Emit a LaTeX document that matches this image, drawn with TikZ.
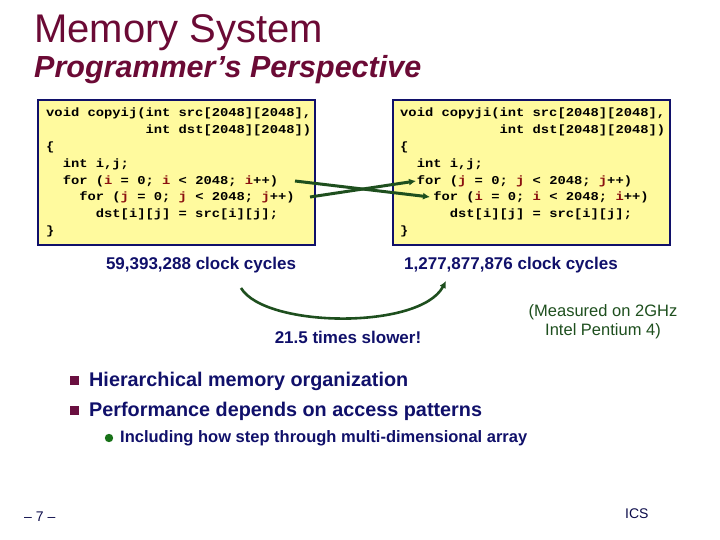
\documentclass[tikz,border=0pt]{standalone}
\usepackage{fontspec}
\setmainfont{Liberation Sans}
\newfontfamily\codefont[FakeStretch=1.15]{Liberation Mono}
\usetikzlibrary{arrows.meta}
\definecolor{ttl}{HTML}{6B0A35}
\definecolor{navy}{HTML}{10106A}
\definecolor{grn}{HTML}{1E4F1E}
\definecolor{ylw}{HTML}{FFFA9E}
\definecolor{vr}{HTML}{8A1010}
\definecolor{bul}{HTML}{6A1040}
\newcommand{\vv}[1]{\textcolor{vr}{#1}}
\begin{document}
\begin{tikzpicture}[x=1pt,y=-1pt,
  codebox/.style={draw=navy,line width=2pt,fill=ylw},
  code/.style={anchor=west,inner sep=0,font=\codefont\bfseries\fontsize{12}{12}\selectfont},
  txt/.style={font=\bfseries\fontsize{17}{17}\selectfont,text=navy,inner sep=0},
  arr/.style={draw=grn,line width=3pt,-{Latex[length=7pt,width=7pt]}}]
\useasboundingbox (0,0) rectangle (720,540);
\node[anchor=west,text=ttl,font=\fontsize{40}{40}\selectfont,inner sep=0] (t1) at (34,33) {Memory System};
\node[anchor=west,text=ttl,font=\bfseries\itshape\fontsize{30.5}{31}\selectfont,inner sep=0] (t2) at (34,70) {Programmer’s Perspective};
\draw[codebox] (38,100) rectangle (315,245);
\draw[codebox] (393,100) rectangle (670,245);
% left code
\node[code] (l1) at (46,113) {void copyij(int src[2048][2048],};
\node[code] (l2) at (46,130) {\phantom{void copyij(}int dst[2048][2048])};
\node[code] (l3) at (46,147) {\{};
\node[code] (l4) at (46,164) {\ \ int i,j;};
\node[code] (l5) at (46,181) {\ \ for (\vv{i} = 0; \vv{i} < 2048; \vv{i}++)};
\node[code] (l6) at (46,197) {\ \ \ \ for (\vv{j} = 0; \vv{j} < 2048; \vv{j}++)};
\node[code] (l7) at (46,214) {\ \ \ \ \ \ dst[i][j] = src[i][j];};
\node[code] (l8) at (46,231) {\}};
% right code
\node[code] (r1) at (400,113) {void copyji(int src[2048][2048],};
\node[code] (r2) at (400,130) {\phantom{void copyji(}int dst[2048][2048])};
\node[code] (r3) at (400,147) {\{};
\node[code] (r4) at (400,164) {\ \ int i,j;};
\node[code] (r5) at (400,181) {\ \ for (\vv{j} = 0; \vv{j} < 2048; \vv{j}++)};
\node[code] (r6) at (400,197) {\ \ \ \ for (\vv{i} = 0; \vv{i} < 2048; \vv{i}++)};
\node[code] (r7) at (400,214) {\ \ \ \ \ \ dst[i][j] = src[i][j];};
\node[code] (r8) at (400,231) {\}};
\coordinate (a1) at (295,181); \coordinate (b1) at (430,197);
\coordinate (a2) at (310,197); \coordinate (b2) at (416,181);
\draw[arr] (a1) -- (b1);
\draw[arr] (a2) -- (b2);
% cycles
\node[txt] (c1) at (201,265) {59,393,288 clock cycles};
\node[txt] (c2) at (511,265) {1,277,877,876 clock cycles};
\coordinate (s) at (241,288); \coordinate (e) at (446,281);
\draw[arr,line width=2.6pt] (s) .. controls (265,328) and (420,330) .. (e);
\node[txt,font=\bfseries\fontsize{17}{17}\selectfont] (slow) at (348,337) {21.5 times slower!};
\node[text=grn,font=\fontsize{16.5}{19}\selectfont,align=center,inner sep=0] (meas) at (603,322) {(Measured on 2GHz\\Intel Pentium 4)};
% bullets
\fill[bul] (70,376) rectangle (79,385); \node[txt,anchor=west,font=\bfseries\fontsize{19.8}{20}\selectfont] (b1t) at (89,381) {Hierarchical memory organization};
\fill[bul] (70,406) rectangle (79,415); \node[txt,anchor=west,font=\bfseries\fontsize{19.8}{20}\selectfont] (b2t) at (89,411) {Performance depends on access patterns};
\fill[grn!80!green] (109,438) circle (4.2);
\node[txt,anchor=west,font=\bfseries\fontsize{16.5}{17}\selectfont] (b3t) at (120,438) {Including how step through multi-dimensional array};
\node[anchor=west,font=\fontsize{14}{14}\selectfont,text=navy!70!black,inner sep=0] (pg) at (24,517) {– 7 –};
\node[anchor=west,font=\fontsize{14}{14}\selectfont,text=navy!70!black,inner sep=0] (ics) at (625,514) {ICS};
\end{tikzpicture}
\end{document}
